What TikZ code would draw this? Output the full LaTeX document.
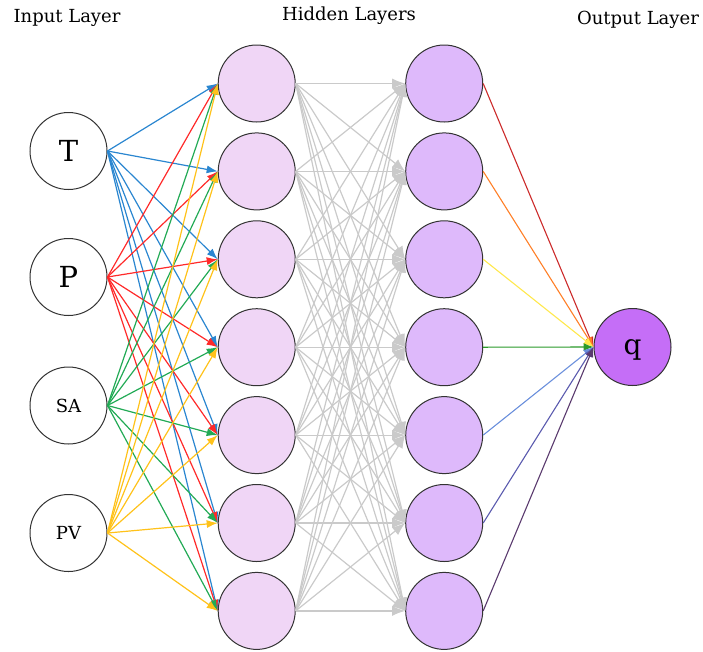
\documentclass[tikz,border=0pt]{standalone}
\usepackage{fontspec}
\setmainfont{DejaVu Serif}
\usetikzlibrary{arrows.meta}
\definecolor{cT}{HTML}{2A86D0}
\definecolor{cP}{HTML}{FF2A2A}
\definecolor{cSA}{HTML}{22AA55}
\definecolor{cPV}{HTML}{FFC21A}
\definecolor{hone}{HTML}{F0D6F6}
\definecolor{htwo}{HTML}{DEB9FB}
\definecolor{outc}{HTML}{C56EF7}
\definecolor{gline}{HTML}{CACACA}
\definecolor{o1}{HTML}{CC2B2B}
\definecolor{o2}{HTML}{FF7F27}
\definecolor{o3}{HTML}{FFE84D}
\definecolor{o4}{HTML}{2A9A2A}
\definecolor{o5}{HTML}{6A8FDC}
\definecolor{o6}{HTML}{5A5AAE}
\definecolor{o7}{HTML}{5A3A6E}
\begin{document}
\begin{tikzpicture}[x=1pt,y=-1pt,
  neuron/.style={circle,draw=black!80,line width=1pt,minimum size=77pt,inner sep=0pt},
  inneuron/.style={neuron,fill=white},
  hidA/.style={neuron,fill=hone},
  hidB/.style={neuron,fill=htwo},
  outneuron/.style={neuron,fill=outc},
  conn/.style={line width=1.2pt,-{Latex[length=11pt,width=8pt]}},
  gconn/.style={line width=1.2pt,-{Latex[length=13pt,width=10pt]}},
  thin/.style={line width=1.1pt,-{Latex[length=10pt,width=8pt]}},
  ttl/.style={font=\fontsize{18}{20}\selectfont}]
\useasboundingbox (0,0) rectangle (703,651);
\node[ttl] (tin) at (67,18) {Input Layer};
\node[ttl] (thid) at (349,16) {Hidden Layers};
\node[ttl] (tout) at (638,20) {Output Layer};
\node[inneuron,font=\fontsize{29}{30}\selectfont] (T) at (68.5,151) {T};
\node[inneuron,font=\fontsize{29}{30}\selectfont] (P) at (68.5,277) {P};
\node[inneuron,font=\fontsize{18}{20}\selectfont] (SA) at (68.5,405.5) {SA};
\node[inneuron,font=\fontsize{18}{20}\selectfont] (PV) at (68.5,533) {PV};
\foreach \i in {1,...,7}{
  \pgfmathsetmacro{\yy}{83.5+(\i-1)*87.9}
  \node[hidA] (a\i) at (256.7,\yy) {};
  \node[hidB] (b\i) at (444.2,\yy) {};
}
\node[outneuron,font=\fontsize{28}{30}\selectfont,text depth=0pt] (q) at (632.5,347) {q};
% gray connections
\foreach \i in {1,...,7}{
  \foreach \j in {1,...,7}{
    \draw[gconn,gline] (a\i.east) -- (b\j.west);
  }
}
% input connections
\foreach \n/\c in {T/cT,P/cP,SA/cSA,PV/cPV}{
  \foreach \j in {1,...,7}{
    \draw[conn,\c] (\n.east) -- (a\j.west);
  }
}
% output connections
\foreach \j/\c in {1/o1,2/o2,3/o3,4/o4,5/o5,6/o6,7/o7}{
  \draw[thin,\c] (b\j.east) -- (q.west);
}
\end{tikzpicture}
\end{document}
